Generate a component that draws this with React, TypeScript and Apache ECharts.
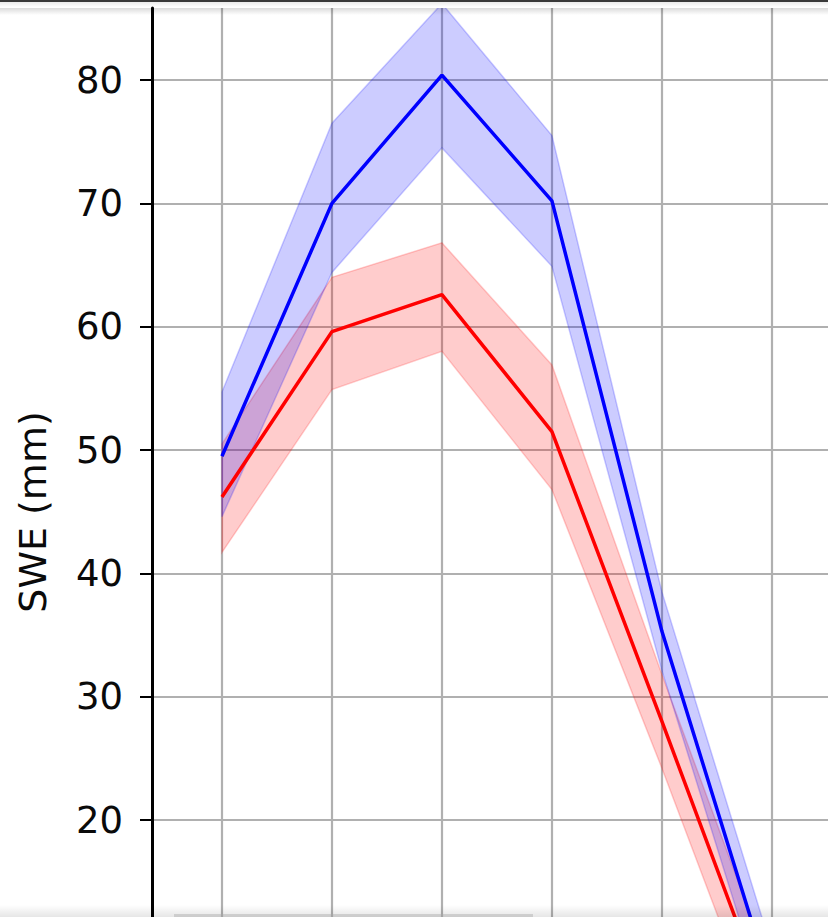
import React, { useEffect, useRef } from "react";
import * as echarts from "echarts";

// Stage positions along the x axis
const stages = [0, 1, 2, 3, 4, 5];

// Snow water equivalent (mm): mean with lower / upper envelope
const blueMean = [49.5, 70.0, 80.4, 70.2, 35.3, 6.5];
const blueLower = [44.6, 64.4, 74.5, 64.9, 32.1, 3.5];
const blueUpper = [54.7, 76.5, 86.2, 75.5, 38.5, 9.5];

const redMean = [46.2, 59.6, 62.6, 51.5, 28.0, 4.1];
const redLower = [41.7, 54.9, 58.0, 46.8, 24.2, 0.6];
const redUpper = [50.5, 64.0, 66.8, 56.9, 31.8, 7.6];

const yTicks = [20, 30, 40, 50, 60, 70, 80];
const yTitle = "SWE (mm)";

const W = 828;
const H = 917;

function bandSeries(lower: number[], upper: number[], color: string) {
  return {
    type: "custom",
    clip: true,
    z: 1,
    silent: true,
    data: [[stages[0], lower[0]]],
    renderItem: (_params: any, api: any) => {
      const pts: number[][] = [];
      for (let i = 0; i < stages.length; i++) pts.push(api.coord([stages[i], upper[i]]));
      for (let i = stages.length - 1; i >= 0; i--) pts.push(api.coord([stages[i], lower[i]]));
      return {
        type: "polygon",
        shape: { points: pts },
        style: { fill: color, stroke: color, lineWidth: 1.5 },
      };
    },
  };
}

function lineSeries(values: number[], color: string) {
  return {
    type: "line",
    z: 3,
    symbol: "none",
    silent: true,
    data: stages.map((s, i) => [s, values[i]]),
    lineStyle: { color, width: 3.5 },
  };
}

export default function App() {
  const ref = useRef<HTMLDivElement>(null);

  useEffect(() => {
    if (!ref.current) return;
    const chart = echarts.init(ref.current, undefined, { renderer: "svg" });
    const font = "'DejaVu Sans', sans-serif";
    chart.setOption({
      animation: false,
      backgroundColor: "#ffffff",
      grid: { left: 152, top: 8, right: 0, bottom: 0, containLabel: false },
      xAxis: {
        type: "value",
        min: -0.636,
        max: 5.51,
        axisLine: { show: false },
        axisTick: { show: false, customValues: stages },
        axisLabel: { show: false, customValues: stages },
        splitLine: { show: true, lineStyle: { color: "#b0b0b0", width: 2.2 } },
      },
      yAxis: {
        type: "value",
        min: 12.14,
        max: 85.84,
        axisLine: { show: true, onZero: false, lineStyle: { color: "#000000", width: 3 } },
        axisTick: {
          show: true,
          length: 12,
          customValues: yTicks,
          lineStyle: { color: "#000000", width: 2 },
        },
        axisLabel: {
          show: true,
          customValues: yTicks,
          margin: 29,
          fontSize: 37,
          fontFamily: font,
          color: "#0a0a0a",
        },
        splitLine: { show: true, lineStyle: { color: "#b0b0b0", width: 2.2 } },
      },
      series: [
        bandSeries(redLower, redUpper, "rgba(255,0,0,0.2)"),
        bandSeries(blueLower, blueUpper, "rgba(0,0,255,0.2)"),
        lineSeries(redMean, "#ff0000"),
        lineSeries(blueMean, "#0000ff"),
      ],
      graphic: [
        {
          type: "text",
          x: 33,
          y: 512,
          rotation: Math.PI / 2,
          style: {
            text: yTitle,
            fontSize: 38,
            fontFamily: font,
            fill: "#0a0a0a",
            align: "center",
            verticalAlign: "middle",
          },
          z: 10,
        },
        // window edge at the top
        { type: "rect", shape: { x: 0, y: 0, width: W, height: 2 }, style: { fill: "#3a3a3a" }, z: 20 },
        {
          type: "rect",
          shape: { x: 0, y: 2, width: W, height: 5 },
          style: {
            fill: new echarts.graphic.LinearGradient(0, 0, 0, 1, [
              { offset: 0, color: "rgba(0,0,0,0.08)" },
              { offset: 1, color: "rgba(0,0,0,0)" },
            ]),
          },
          z: 20,
        },
        {
          type: "rect",
          shape: { x: 0, y: 8, width: W, height: 7 },
          style: {
            fill: new echarts.graphic.LinearGradient(0, 0, 0, 1, [
              { offset: 0, color: "rgba(0,0,0,0.14)" },
              { offset: 1, color: "rgba(0,0,0,0)" },
            ]),
          },
          z: 20,
        },
        // shading along the bottom edge
        {
          type: "rect",
          shape: { x: 0, y: H - 12, width: W, height: 12 },
          style: {
            fill: new echarts.graphic.LinearGradient(0, 0, 0, 1, [
              { offset: 0, color: "rgba(0,0,0,0)" },
              { offset: 1, color: "rgba(0,0,0,0.1)" },
            ]),
          },
          z: 20,
        },
        { type: "rect", shape: { x: 174, y: H - 3, width: 359, height: 3 }, style: { fill: "rgba(170,170,170,0.45)" }, z: 21 },
      ],
    });
    return () => chart.dispose();
  }, []);

  return (
    <div
      ref={ref}
      style={{ position: "fixed", left: 0, top: 0, width: W, height: H, background: "#fff" }}
    />
  );
}
